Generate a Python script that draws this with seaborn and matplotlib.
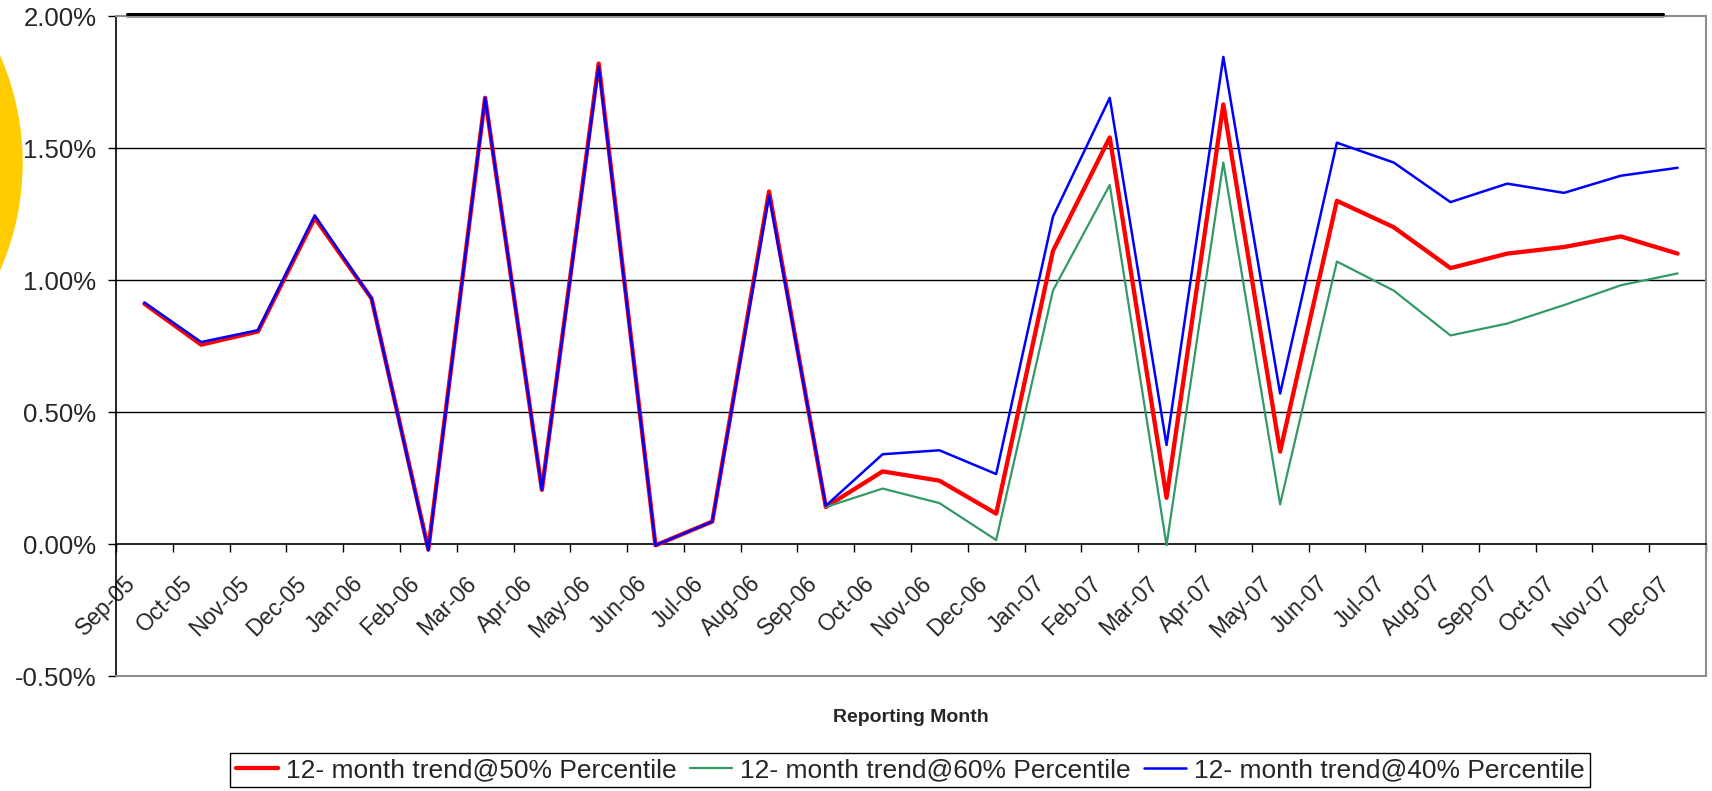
import matplotlib
matplotlib.use("Agg")
import matplotlib.pyplot as plt
import matplotlib.transforms as mtransforms
import seaborn as sns
import numpy as np
import pandas as pd
from matplotlib.patches import Ellipse
from matplotlib.lines import Line2D

# data (in %)
months = ["Sep-05", "Oct-05", "Nov-05", "Dec-05", "Jan-06", "Feb-06", "Mar-06",
          "Apr-06", "May-06", "Jun-06", "Jul-06", "Aug-06", "Sep-06", "Oct-06",
          "Nov-06", "Dec-06", "Jan-07", "Feb-07", "Mar-07", "Apr-07", "May-07",
          "Jun-07", "Jul-07", "Aug-07", "Sep-07", "Oct-07", "Nov-07", "Dec-07"]
p50 = [0.91, 0.755, 0.805, 1.235, 0.93, -0.02, 1.69, 0.205, 1.82, -0.005, 0.085,
       1.335, 0.14, 0.275, 0.24, 0.115, 1.11, 1.54, 0.175, 1.665, 0.35, 1.30,
       1.20, 1.045, 1.10, 1.125, 1.165, 1.10]
p60 = [np.nan] * 12 + [0.14, 0.21, 0.155, 0.015, 0.96, 1.36, -0.005, 1.445, 0.15,
                       1.07, 0.96, 0.79, 0.835, 0.905, 0.98, 1.025]
p40 = [0.915, 0.765, 0.81, 1.245, 0.93, -0.025, 1.69, 0.205, 1.81, -0.005, 0.085,
       1.32, 0.145, 0.34, 0.355, 0.265, 1.24, 1.69, 0.375, 1.845, 0.57, 1.52,
       1.445, 1.295, 1.365, 1.33, 1.395, 1.425]
labels = ["12- month trend@50% Percentile", "12- month trend@60% Percentile",
          "12- month trend@40% Percentile"]
yticks = [-0.5, 0.0, 0.5, 1.0, 1.5, 2.0]

sns.set_style("white")
plt.rcParams["font.family"] = ["Liberation Sans", "DejaVu Sans"]

df = pd.DataFrame({"month": months, "p50": p50, "p60": p60, "p40": p40})
df["pos"] = np.arange(len(df))

fig = plt.figure(figsize=(17.12, 7.91), dpi=100)
ax = fig.add_axes([116 / 1712, 1 - 676 / 791, 1590 / 1712, 660 / 791])

# yellow decoration at the left edge
circ = Ellipse((-244 / 1712, 1 - 163 / 791), 2 * 266 / 1712, 2 * 266 / 791,
               transform=fig.transFigure, color="#FFCC00", zorder=0)
fig.patches.append(circ)

# thick line at the top of the slide
fig.add_artist(Line2D([127 / 1712, 1663 / 1712], [1 - 15.5 / 791, 1 - 15.5 / 791],
                      transform=fig.transFigure, color="#9a9a9a", lw=2.2))
fig.add_artist(Line2D([127 / 1712, 1663 / 1712], [1 - 13.5 / 791, 1 - 13.5 / 791],
                      transform=fig.transFigure, color="black", lw=2.2))

for y in yticks[2:-1]:
    ax.axhline(y, color="black", lw=1.0, zorder=1)

sns.lineplot(data=df, x="pos", y="p50", ax=ax, color="#FF0000", lw=3.1,
             sort=False, zorder=3)
sns.lineplot(data=df, x="pos", y="p60", ax=ax, color="#339966", lw=1.6,
             sort=False, zorder=4)
sns.lineplot(data=df, x="pos", y="p40", ax=ax, color="#0000FF", lw=1.8,
             sort=False, zorder=5)

ax.set_xlim(-0.5, len(months) - 0.5)
ax.set_ylim(-0.5, 2.0)
ax.set_xlabel("")
ax.set_ylabel("")

# spines first: moving the bottom spine resets the x ticks
ax.spines["bottom"].set_position(("data", 0))
ax.spines["bottom"].set_color("black")
ax.spines["bottom"].set_linewidth(1.2)
ax.spines["left"].set_color("black")
ax.spines["left"].set_linewidth(1.2)
for s in ["top", "right"]:
    ax.spines[s].set_color("#8c8c8c")
    ax.spines[s].set_linewidth(1.5)
ax.axhline(-0.5, color="#8c8c8c", lw=1.5, clip_on=False, zorder=6)

ax.set_yticks(yticks)
ax.set_yticklabels([f"{v:.2f}%" for v in yticks], fontsize=18.5)
ax.tick_params(axis="y", direction="out", length=6, width=1, color="black",
               pad=8, left=True)

ax.set_xticks(df["pos"])
ax.set_xticks(np.arange(-0.5, len(months), 1), minor=True)
ax.tick_params(axis="x", which="major", length=0, pad=26)
ax.tick_params(axis="x", which="minor", direction="out", length=6, width=1,
               color="black", bottom=True)
ax.set_xticklabels(months, fontsize=16.5, rotation=45, ha="right",
                   va="center", rotation_mode="anchor")
shift = mtransforms.ScaledTranslation(-12 / 100, 0, fig.dpi_scale_trans)
for lab in ax.get_xticklabels():
    lab.set_transform(lab.get_transform() + shift)

fig.text(911 / 1712, 1 - 718 / 791, "Reporting Month", ha="center",
         va="center", fontsize=14, fontweight="bold")

handles = [Line2D([], [], color="#FF0000", lw=3.1),
           Line2D([], [], color="#339966", lw=1.6),
           Line2D([], [], color="#0000FF", lw=1.8)]
leg = fig.legend(handles, labels, loc="center", ncol=3,
                 bbox_to_anchor=(910 / 1712, 1 - 770 / 791), fontsize=19,
                 frameon=True, fancybox=False, framealpha=1, edgecolor="black",
                 handlelength=1.6, handletextpad=0.3, columnspacing=0.5,
                 borderpad=0.2, borderaxespad=0, handleheight=0.7)
leg.get_frame().set_linewidth(1.0)

fig.savefig("out.png", dpi=100)
